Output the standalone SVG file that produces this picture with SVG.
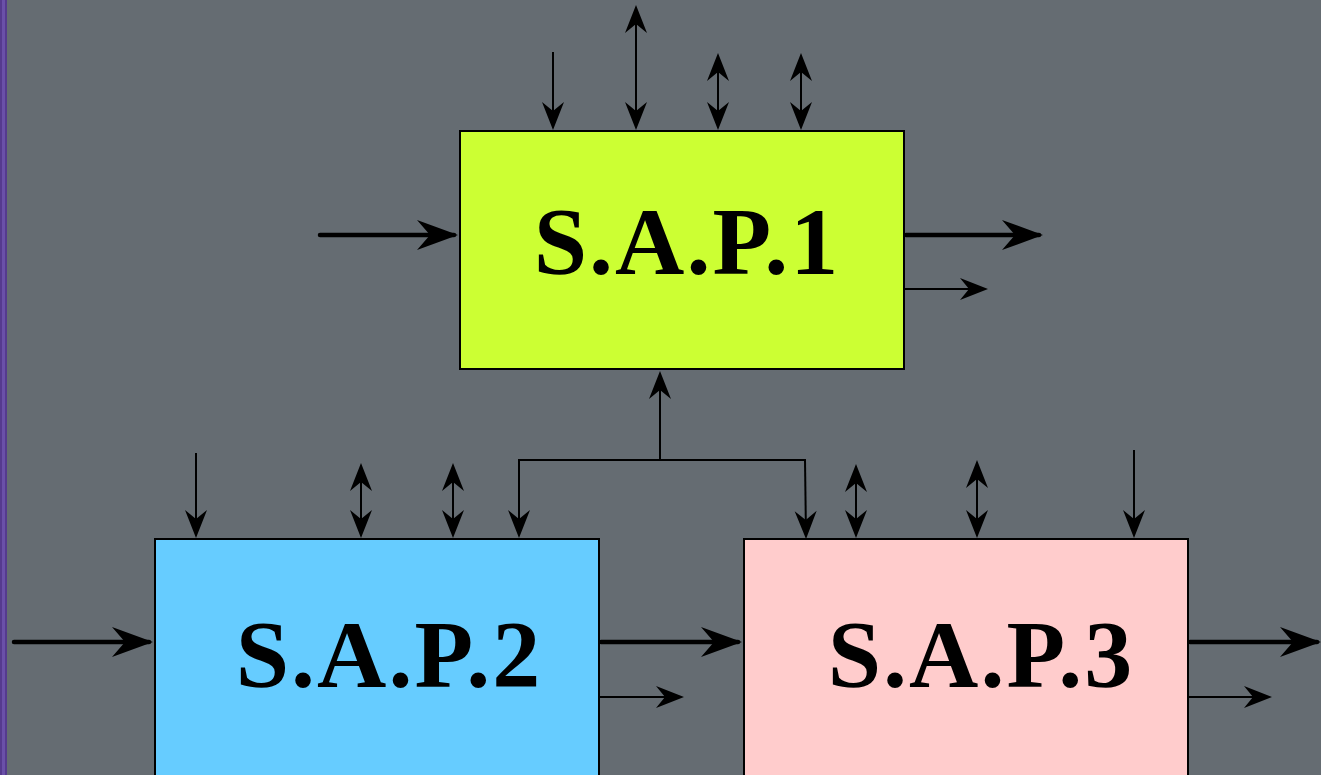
<svg xmlns="http://www.w3.org/2000/svg" width="1321" height="775" viewBox="0 0 1321 775">
  <defs>
    <style>
      .box { stroke: #000; stroke-width: 2; }
      .label { font-family: "Liberation Serif", "Times New Roman", serif; font-weight: bold; font-size: 96px; letter-spacing: 2px; fill: #000; }
      .thin { stroke: #000; stroke-width: 2; fill: none; }
      .thick { stroke: #000; stroke-width: 4.5; fill: none; stroke-linecap: round; }
      .one { marker-end: url(#head); }
      .two { marker-start: url(#head); marker-end: url(#head); }
      .big { marker-end: url(#bighead); }
    </style>
    <!-- barbed arrowheads, tip at origin pointing along +x -->
    <marker id="head" markerUnits="userSpaceOnUse" orient="auto-start-reverse" refX="-3" refY="0" overflow="visible">
      <path d="M0,0 L-28,-11 L-19,0 L-28,11 Z" fill="#000"/>
    </marker>
    <marker id="bighead" markerUnits="userSpaceOnUse" orient="auto" refX="-4" refY="0" overflow="visible">
      <path d="M0,0 L-41,-15 L-28,0 L-41,15 Z" fill="#000"/>
    </marker>
  </defs>

  <!-- backdrop -->
  <rect x="0" y="0" width="1321" height="775" fill="#656c72"/>
  <rect x="0" y="0" width="7" height="775" fill="#553a8e"/>
  <rect x="2" y="0" width="3" height="775" fill="#6a50a8"/>

  <g id="sap1">
    <rect class="box" x="460" y="131" width="444" height="238" fill="#ccff33"/>
    <text class="label" x="687" y="274" text-anchor="middle">S.A.P.1</text>
  </g>

  <g id="sap2">
    <rect class="box" x="155" y="539" width="444" height="250" fill="#66ccff"/>
    <text class="label" x="389" y="687" text-anchor="middle">S.A.P.2</text>
  </g>

  <g id="sap3">
    <rect class="box" x="744" y="539" width="444" height="250" fill="#ffcccc"/>
    <text class="label" x="981" y="687" text-anchor="middle">S.A.P.3</text>
  </g>

  <g id="connectors">
    <!-- S.A.P.1 top -->
    <line class="thin one" x1="553" y1="52" x2="553" y2="127"/>
    <line class="thin two" x1="636" y1="8" x2="636" y2="127"/>
    <line class="thin two" x1="718" y1="56" x2="718" y2="127"/>
    <line class="thin two" x1="801" y1="56" x2="801" y2="127"/>

    <!-- S.A.P.1 sides -->
    <line class="thick big" x1="320" y1="235" x2="454" y2="235"/>
    <line class="thick big" x1="906" y1="235" x2="1039" y2="235"/>
    <line class="thin one" x1="905" y1="289" x2="985" y2="289"/>

    <!-- feedback tree from S.A.P.2 / S.A.P.3 into S.A.P.1 -->
    <line class="thin one" x1="660" y1="460" x2="660" y2="374"/>
    <polyline class="thin" points="519,461 519,460 805,460 805,461" />
    <line class="thin one" x1="519" y1="460" x2="519" y2="535"/>
    <line class="thin one" x1="805" y1="460" x2="806" y2="536"/>

    <!-- S.A.P.2 top -->
    <line class="thin one" x1="196" y1="453" x2="196" y2="535"/>
    <line class="thin two" x1="361" y1="466" x2="361" y2="535"/>
    <line class="thin two" x1="453" y1="466" x2="453" y2="535"/>

    <!-- S.A.P.3 top -->
    <line class="thin two" x1="856" y1="467" x2="856" y2="535"/>
    <line class="thin two" x1="977" y1="463" x2="977" y2="535"/>
    <line class="thin one" x1="1134" y1="450" x2="1134" y2="535"/>

    <!-- bottom row sides -->
    <line class="thick big" x1="14" y1="642" x2="149" y2="642"/>
    <line class="thick big" x1="601" y1="642" x2="738" y2="642"/>
    <line class="thin one" x1="600" y1="697" x2="681" y2="697"/>
    <line class="thick big" x1="1190" y1="642" x2="1317" y2="642"/>
    <line class="thin one" x1="1189" y1="697" x2="1269" y2="697"/>
  </g>
</svg>
